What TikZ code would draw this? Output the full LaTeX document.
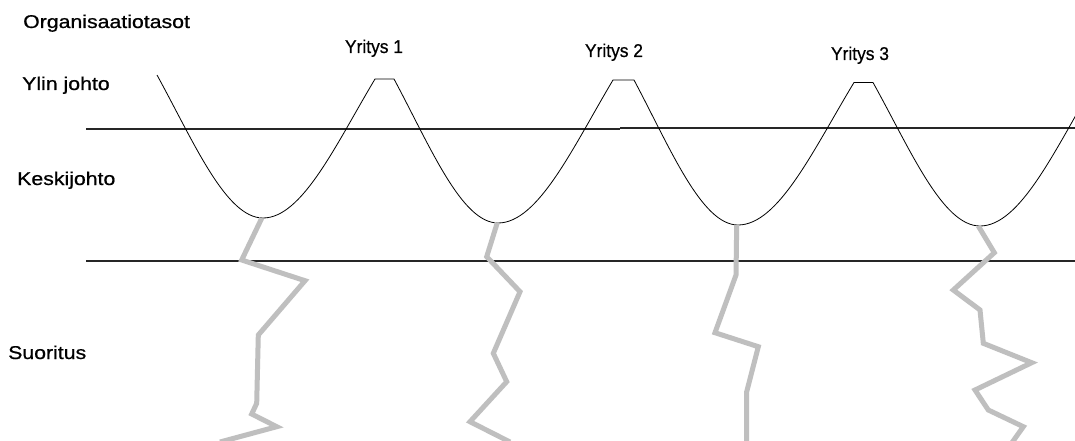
\documentclass[tikz,border=0pt]{standalone}
\usepackage{fontspec}
\setmainfont{Liberation Sans}
\newfontfamily\labelfont{Liberation Sans}[FakeBold=0.7]
\tikzset{
  level/.style={draw=black!85, line width=1.1pt},
  wave/.style={draw=black, line width=0.8pt},
  trail/.style={draw=black!25, line width=5pt},
  sidelabel/.style={anchor=base west, inner sep=0pt,
    font=\labelfont\fontsize{18.5}{20}\selectfont},
  firmlabel/.style={anchor=base, inner sep=0pt,
    font=\labelfont\fontsize{18.5}{20}\selectfont},
}
\newcommand{\widetext}[1]{\scalebox{1.15}[1]{#1}}
\newcommand{\narrowtext}[1]{\scalebox{0.94}[1]{#1}}
\begin{document}
\begin{tikzpicture}[x=1pt, y=-1pt]
  \useasboundingbox (0,0) rectangle (1075,441);
  \fill[white] (0,0) rectangle (1075,441);

  % level labels
  \node[sidelabel] (org) at (23,28)  {\widetext{Organisaatiotasot}};
  \node[sidelabel] (top) at (22,90)  {\widetext{Ylin johto}};
  \node[sidelabel] (mid) at (17,185) {\widetext{Keskijohto}};
  \node[sidelabel] (low) at (8,359)  {\widetext{Suoritus}};

  % company labels over the peaks
  \node[firmlabel] (f1) at (374,53) {\narrowtext{Yritys 1}};
  \node[firmlabel] (f2) at (614,57) {\narrowtext{Yritys 2}};
  \node[firmlabel] (f3) at (860,60) {\narrowtext{Yritys 3}};

  \begin{scope}
    \clip (0,0) rectangle (1075,441);

    % level boundaries
    \draw[level] (86,129) -- (620,129);
    \draw[level] (620,128) -- (1075,128);
    \draw[level] (86,261) -- (1075,261);

    % the wave: three peaks, four valleys
    \draw[wave]
      (157,75)
      .. controls (194.1,142.6) and (225.9,218) .. (263,218)
      .. controls (302.2,218) and (335.8,144.7) .. (375,79)
      -- (394,79)
      .. controls (430.4,147) and (461.6,223) .. (498,223)
      .. controls (538.25,223) and (572.75,147.6) .. (613,80)
      -- (634,80)
      .. controls (670.4,148.5) and (701.6,225) .. (738,225)
      .. controls (778.6,225) and (813.4,149.6) .. (854,82.5)
      -- (873,82.5)
      .. controls (910.5,150) and (942.5,226) .. (980,226)
      .. controls (1020.25,226) and (1054.75,150) .. (1095,82);

    % performance trails below each valley
    \draw[trail] (261.7,218.3) -- (241.7,260) -- (305,280.7) -- (258.3,335)
      -- (256.7,403.3) -- (251.7,414) -- (276.7,426.7) -- (220,442);
    \draw[trail] (497.3,222.7) -- (486.7,256.7) -- (520,291.7) -- (493.3,353.3)
      -- (506.7,381.7) -- (470,421.7) -- (510,442);
    \draw[trail] (736.7,225) -- (736,275) -- (715,332.7) -- (758.3,346.7)
      -- (746.7,391.7) -- (746.7,442);
    \draw[trail] (978.3,226) -- (994.3,252.7) -- (953.3,290) -- (980,310)
      -- (983.3,343.3) -- (1031.7,362.7) -- (975,390) -- (988.3,410)
      -- (1023.3,426.7) -- (1011,444);
  \end{scope}
\end{tikzpicture}
\end{document}
